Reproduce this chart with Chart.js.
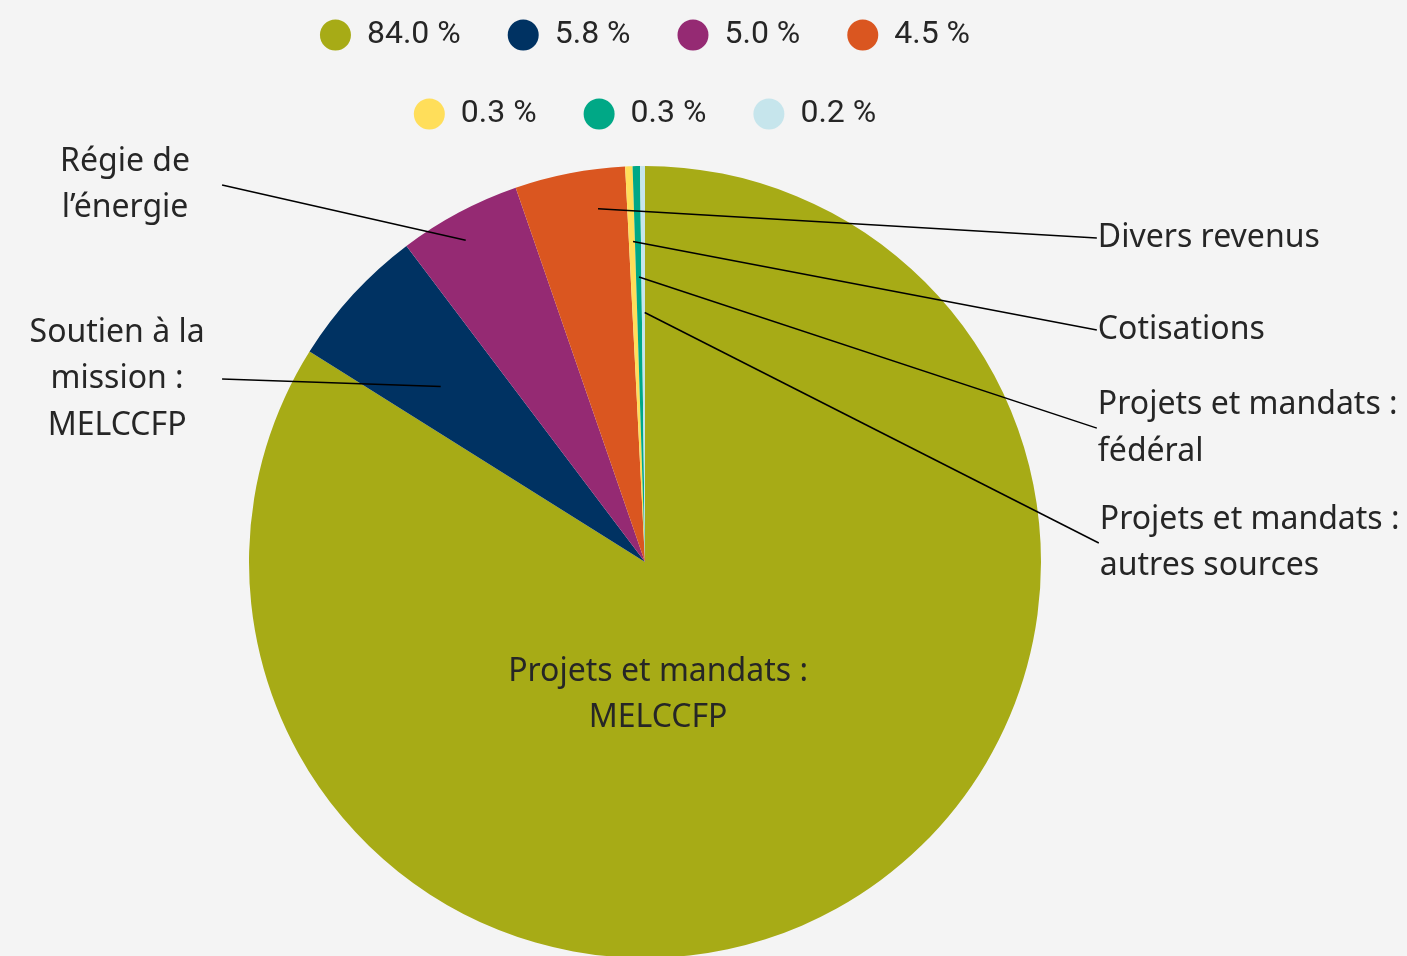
<!DOCTYPE html>
<html>
<head>
<meta charset="utf-8">
<script src="https://cdn.jsdelivr.net/npm/chart.js@4.4.0/dist/chart.umd.min.js"></script>
<style>
  html, body { margin: 0; padding: 0; background: #f4f4f4; overflow: hidden; }
  #wrap { position: absolute; left: 0; top: -28px; width: 1407px; height: 1012px; }
</style>
</head>
<body>
<div id="wrap"><canvas id="canvas"></canvas></div>
<script>
// donnees du graphique
const categories = [
  'Projets et mandats :\nMELCCFP',
  'Soutien à la\nmission :\nMELCCFP',
  'Régie de\nl’énergie',
  'Divers revenus',
  'Cotisations',
  'Projets et mandats :\nfédéral',
  'Projets et mandats :\nautres sources'
];
const parts = [84.0, 5.8, 5.0, 4.5, 0.3, 0.3, 0.2];
const legendLabels = ['84.0 %', '5.8 %', '5.0 %', '4.5 %', '0.3 %', '0.3 %', '0.2 %'];
const colors = ['#A7AB16', '#003262', '#952A73', '#DA5620', '#FFDE5A', '#00A886', '#C6E5EC'];

// position des etiquettes (en fraction du rayon, depuis le centre)
const leaders = [
  { inside: true, dx: 0.033, dy: 0.335 },
  { a: 0.41, r: 0.68, ex: -1.068, ey: -0.462, tx: -1.333 },
  { a: 0.44, r: 0.93, ex: -1.068, ey: -0.952, tx: -1.313 },
  { a: 0.71, r: 0.90, ex: 1.141, ey: -0.818 },
  { a: 0.68, r: 0.81, ex: 1.141, ey: -0.586 },
  { a: 0.55, r: 0.72, ex: 1.141, ey: -0.338 },
  { a: 0.90, r: 0.63, ex: 1.146, ey: -0.048 }
];

const leaderLabels = {
  id: 'leaderLabels',
  afterDatasetsDraw(chart) {
    const ctx = chart.ctx;
    const meta = chart.getDatasetMeta(0);
    const lineH = 46.5;
    ctx.save();
    ctx.font = '32px "Noto Sans"';
    ctx.fillStyle = '#262626';
    ctx.strokeStyle = '#000';
    ctx.lineWidth = 1.5;
    ctx.textBaseline = 'middle';
    meta.data.forEach((arc, i) => {
      const p = arc.getProps(['x', 'y', 'startAngle', 'endAngle', 'outerRadius'], true);
      const lay = leaders[i];
      const R = p.outerRadius;
      const lines = categories[i].split('\n');
      let tx, ty;
      if (lay.inside) {
        ctx.textAlign = 'center';
        tx = p.x + lay.dx * R;
        ty = p.y + lay.dy * R;
      } else {
        const ang = p.startAngle + (p.endAngle - p.startAngle) * lay.a;
        const sx = p.x + Math.cos(ang) * R * lay.r;
        const sy = p.y + Math.sin(ang) * R * lay.r;
        const ex = p.x + lay.ex * R;
        const ey = p.y + lay.ey * R;
        ctx.beginPath();
        ctx.moveTo(sx, sy);
        ctx.lineTo(ex, ey);
        ctx.stroke();
        ty = ey;
        if (lay.tx !== undefined) {
          ctx.textAlign = 'center';
          tx = p.x + lay.tx * R;
        } else {
          ctx.textAlign = 'left';
          tx = ex + 1;
        }
      }
      lines.forEach((l, k) => {
        ctx.fillText(l, tx, ty + (k - (lines.length - 1) / 2) * lineH);
      });
    });
    ctx.restore();
  }
};

const ctx = document.getElementById('canvas');
new Chart(ctx, {
  type: 'pie',
  data: {
    labels: categories,
    datasets: [{
      data: parts,
      backgroundColor: colors,
      borderWidth: 0,
      radius: 396,
      clip: false
    }]
  },
  options: {
    responsive: true,
    maintainAspectRatio: false,
    animation: false,
    layout: {
      padding: { left: 230, right: 347, top: 0, bottom: 0 }
    },
    plugins: {
      tooltip: { enabled: false },
      legend: {
        position: 'top',
        labels: {
          usePointStyle: true,
          pointStyle: 'circle',
          pointStyleWidth: 31,
          boxHeight: 22,
          padding: 47,
          color: '#262626',
          font: { family: 'Roboto', size: 32 },
          generateLabels: function(chart) {
            const items = Chart.overrides.pie.plugins.legend.labels.generateLabels(chart);
            return items.map(function(it, i) {
              it.text = legendLabels[i];
              return it;
            });
          }
        }
      }
    }
  },
  plugins: [leaderLabels]
});
</script>
</body>
</html>
